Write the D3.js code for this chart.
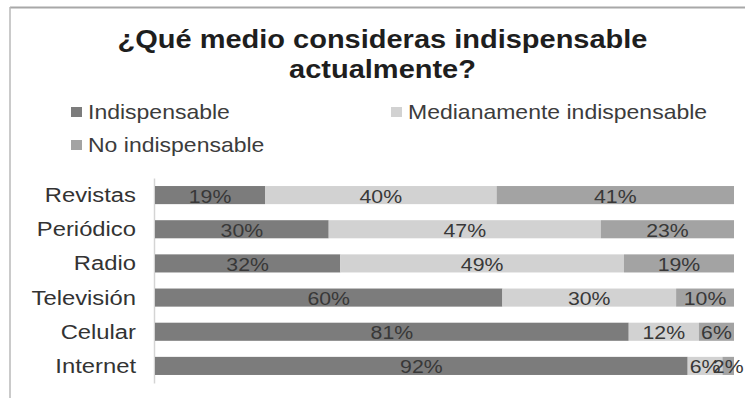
<!DOCTYPE html>
<html>
<head>
<meta charset="utf-8">
<script src="https://cdn.jsdelivr.net/npm/d3@7"></script>
<style>
  html, body { margin: 0; padding: 0; background: #fff; }
  svg { display: block; }
  text { font-family: "Liberation Sans", Arial, sans-serif; }
</style>
</head>
<body>
<svg id="chart" width="745" height="398"></svg>
<script>
// Survey: which medium is considered indispensable today
const titleLines = ["¿Qué medio consideras indispensable", "actualmente?"];
const categories = ["Revistas", "Periódico", "Radio", "Televisión", "Celular", "Internet"];
const seriesNames = ["Indispensable", "Medianamente indispensable", "No indispensable"];
const indispensable = [19, 30, 32, 60, 81, 92];
const medianamente = [40, 47, 49, 30, 12, 6];
const noIndispensable = [41, 23, 19, 10, 6, 2];
const seriesColors = ["#7c7c7c", "#d2d2d2", "#a3a3a3"];

const rows = categories.map((c, i) => ({
  category: c,
  "Indispensable": indispensable[i],
  "Medianamente indispensable": medianamente[i],
  "No indispensable": noIndispensable[i]
}));

const svg = d3.select("#chart");
const W = 745, H = 398;
const SX = 1.15; // horizontal stretch of the text glyphs

// outer frame (top and left edges)
svg.append("line").attr("x1", 10).attr("x2", W).attr("y1", 7.5).attr("y2", 7.5)
  .attr("stroke", "#a8a8a8").attr("stroke-width", 2);
svg.append("line").attr("x1", 10).attr("x2", 10).attr("y1", 7).attr("y2", H)
  .attr("stroke", "#b8b8b8").attr("stroke-width", 1.5);

function stretchedText(sel, x, y, sx) {
  return sel.attr("transform", `translate(${x},${y}) scale(${sx},1)`);
}

// title
titleLines.forEach((t, i) => {
  stretchedText(svg.append("text"), 382.5, 48 + i * 29.5, 1.16)
    .attr("text-anchor", "middle")
    .attr("font-size", 25).attr("font-weight", "bold")
    .attr("fill", "#1e1e1e").text(t);
});

// legend
const legendPos = [[71, 119], [391, 119], [71, 152]];
seriesNames.forEach((name, i) => {
  const [lx, ly] = legendPos[i];
  svg.append("rect").attr("x", lx).attr("y", ly - 12).attr("width", 11).attr("height", 10)
    .attr("fill", seriesColors[i]);
  stretchedText(svg.append("text"), lx + 17, ly, SX)
    .attr("font-size", 20).attr("fill", "#3c3c3c").text(name);
});

// scales
const x = d3.scaleLinear().domain([0, 1]).range([155, 734]);
const y = d3.scaleBand().domain(categories).range([178, 383])
  .paddingInner(0.47).paddingOuter(0.235);

const stack = d3.stack().keys(seriesNames).offset(d3.stackOffsetExpand);
const stacked = stack(rows);

// category axis
const yAxis = d3.axisLeft(y).tickSize(0).tickPadding(0);
const gAxis = svg.append("g").attr("transform", "translate(154,0)").call(yAxis);
gAxis.select(".domain").attr("stroke", "#d4d4d4").attr("stroke-width", 1.5);
gAxis.selectAll(".tick text").each(function(d) {
  d3.select(this)
    .attr("x", null).attr("dy", null)
    .attr("transform", "translate(-18,7) scale(1.19,1)")
    .attr("text-anchor", "end")
    .attr("font-size", 20)
    .attr("font-family", "'Liberation Sans', Arial, sans-serif")
    .attr("fill", "#333");
});

// bars
const layers = svg.append("g").selectAll("g").data(stacked).join("g")
  .attr("fill", (d, i) => seriesColors[i]);
layers.selectAll("rect").data(d => d).join("rect")
  .attr("x", d => x(d[0]))
  .attr("y", d => y(d.data.category))
  .attr("width", d => x(d[1]) - x(d[0]))
  .attr("height", y.bandwidth());

// value labels
const labels = svg.append("g");
stacked.forEach((layer, si) => {
  layer.forEach(d => {
    const cx = (x(d[0]) + x(d[1])) / 2;
    const cy = y(d.data.category) + y.bandwidth() / 2 + 7.5;
    stretchedText(labels.append("text"), cx, cy, 1.12)
      .attr("text-anchor", "middle")
      .attr("font-size", 19)
      .attr("fill", "#383838")
      .text(d.data[layer.key] + "%");
  });
});
</script>
</body>
</html>
